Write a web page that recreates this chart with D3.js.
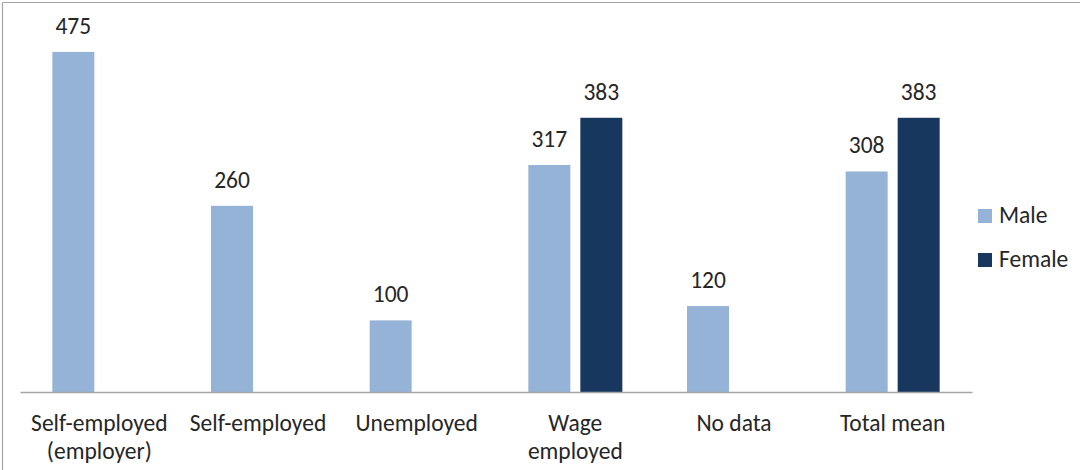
<!DOCTYPE html>
<html>
<head>
<meta charset="utf-8">
<script src="https://cdn.jsdelivr.net/npm/d3@7"></script>
<style>
  html, body { margin: 0; padding: 0; background: #fff; }
  svg { display: block; }
  text { font-family: Carlito, Lato, "Open Sans", sans-serif; fill: #262626; }
</style>
</head>
<body>
<svg id="chart" width="1080" height="470"></svg>
<script>
// Mean earnings by employment status and sex
const categories = [
  ["Self-employed", "(employer)"],
  ["Self-employed"],
  ["Unemployed"],
  ["Wage", "employed"],
  ["No data"],
  ["Total mean"]
];
const seriesNames = ["Male", "Female"];
const maleValues   = [475, 260, 100, 317, 120, 308];
const femaleValues = [null, null, null, 383, null, 383];
const yTicks = [0, 100, 200, 300, 400, 500];

const colors = { Male: "#95B3D7", Female: "#17375E" };
const FS = 23.5;

const svg = d3.select("#chart");
const W = 1080, H = 470;

// chart area frame (top and left edges)
svg.append("line").attr("x1", 2.5).attr("x2", W).attr("y1", 2.5).attr("y2", 2.5)
  .attr("stroke", "#A6A6A6").attr("stroke-width", 1.2);
svg.append("line").attr("x1", 2.5).attr("x2", 2.5).attr("y1", 2.5).attr("y2", H)
  .attr("stroke", "#A6A6A6").attr("stroke-width", 1.2);

const plot = { left: 20, right: 972, top: 34, bottom: 392 };

const keys = categories.map((c, i) => i);
const x0 = d3.scaleBand().domain(keys).range([plot.left, plot.right]).padding(0);
const groupW = x0.bandwidth();
const x1 = d3.scaleBand().domain(seriesNames)
  .range([groupW / 2 - 47, groupW / 2 + 47])
  .paddingInner(0.1923).paddingOuter(0);
const y = d3.scaleLinear().domain([yTicks[0], yTicks[yTicks.length - 1]])
  .range([plot.bottom, plot.top]);

const rows = [];
keys.forEach(i => {
  if (maleValues[i] != null) rows.push({ i, s: "Male", v: maleValues[i] });
  if (femaleValues[i] != null) rows.push({ i, s: "Female", v: femaleValues[i] });
});

// bars
svg.append("g").selectAll("rect").data(rows).join("rect")
  .attr("x", d => x0(d.i) + x1(d.s))
  .attr("width", x1.bandwidth())
  .attr("y", d => y(d.v))
  .attr("height", d => y(0) - y(d.v))
  .attr("fill", d => colors[d.s]);

// value labels
svg.append("g").selectAll("text").data(rows).join("text")
  .attr("x", d => x0(d.i) + x1(d.s) + x1.bandwidth() / 2)
  .attr("y", d => y(d.v) - 18)
  .attr("text-anchor", "middle")
  .attr("font-size", FS)
  .text(d => d.v);

// category axis
const xAxis = svg.append("g")
  .attr("transform", `translate(0,${plot.bottom})`)
  .call(d3.axisBottom(x0).tickSize(0).tickFormat(() => ""));
xAxis.select(".domain").attr("stroke", "#A6A6A6").attr("stroke-width", 1.5);

const catLabels = svg.append("g").selectAll("text").data(keys).join("text")
  .attr("x", i => x0(i) + groupW / 2)
  .attr("y", 431)
  .attr("text-anchor", "middle")
  .attr("font-size", FS);
catLabels.selectAll("tspan").data(i => categories[i]).join("tspan")
  .attr("x", function () { return d3.select(this.parentNode).attr("x"); })
  .attr("dy", (d, j) => j === 0 ? 0 : 28)
  .text(d => d);

// legend
const legend = svg.append("g").selectAll("g").data(seriesNames).join("g")
  .attr("transform", (d, j) => `translate(978,${209 + j * 44})`);
legend.append("rect").attr("width", 14).attr("height", 14)
  .attr("fill", d => colors[d]);
legend.append("text").attr("x", 21).attr("y", 14)
  .attr("font-size", FS).text(d => d);
</script>
</body>
</html>
